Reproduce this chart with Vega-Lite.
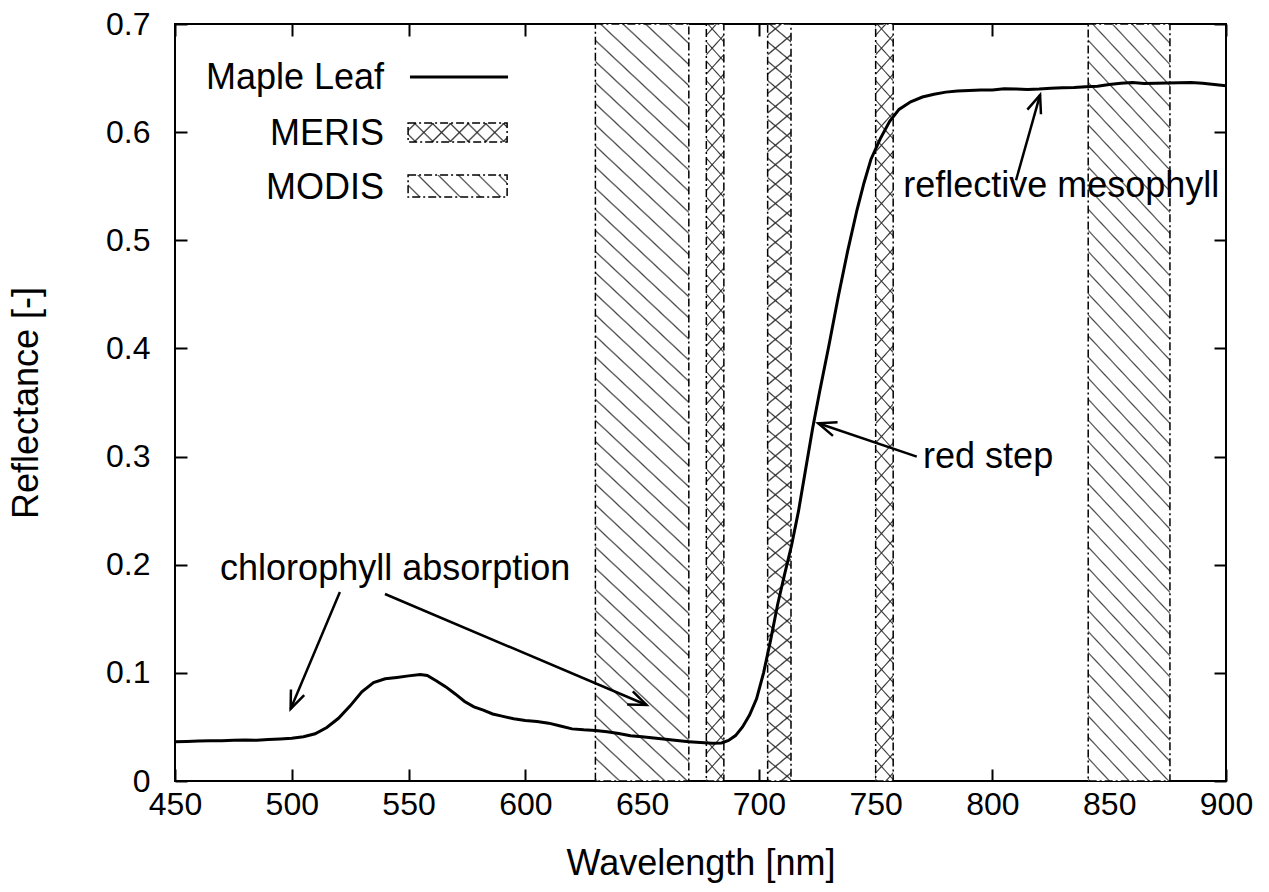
{
  "$schema": "https://vega.github.io/schema/vega-lite/v6.json",
  "width": 1051,
  "height": 757,
  "autosize": {"type": "none"},
  "padding": {"left": 175, "top": 24, "right": 43, "bottom": 111},
  "background": "white",
  "config": {
    "view": {"stroke": "#000", "strokeWidth": 2},
    "font": "Liberation Sans",
    "axis": {"domain": false, "grid": false, "labelFlush": false, "labelOverlap": false, "tickColor": "#000", "tickWidth": 2, "tickSize": -12, "labelColor": "#000", "titleColor": "#000", "labelFont": "Liberation Sans", "titleFont": "Liberation Sans", "labelFontSize": 32, "titleFontSize": 36, "titleFontWeight": "normal"}
  },
  "datasets": {
    "spectrum": [
      {"wl": 450, "r": 0.0363}, {"wl": 455, "r": 0.0366}, {"wl": 460, "r": 0.037}, {"wl": 465, "r": 0.0373}, {"wl": 470, "r": 0.0372},
      {"wl": 475, "r": 0.0377}, {"wl": 480, "r": 0.0379}, {"wl": 485, "r": 0.0377}, {"wl": 490, "r": 0.0383}, {"wl": 495, "r": 0.0388},
      {"wl": 500, "r": 0.0395}, {"wl": 505, "r": 0.041}, {"wl": 510, "r": 0.0437}, {"wl": 515, "r": 0.0495}, {"wl": 520, "r": 0.058},
      {"wl": 525, "r": 0.0695}, {"wl": 530, "r": 0.0825}, {"wl": 535, "r": 0.091}, {"wl": 540, "r": 0.0945}, {"wl": 545, "r": 0.0958},
      {"wl": 550, "r": 0.0972}, {"wl": 555, "r": 0.0985}, {"wl": 558, "r": 0.0975}, {"wl": 562, "r": 0.0925}, {"wl": 566, "r": 0.087},
      {"wl": 570, "r": 0.0805}, {"wl": 574, "r": 0.0735}, {"wl": 578, "r": 0.0685}, {"wl": 582, "r": 0.0655}, {"wl": 586, "r": 0.062},
      {"wl": 590, "r": 0.06}, {"wl": 595, "r": 0.0575}, {"wl": 600, "r": 0.056}, {"wl": 605, "r": 0.055}, {"wl": 610, "r": 0.0535},
      {"wl": 615, "r": 0.0508}, {"wl": 620, "r": 0.0482}, {"wl": 625, "r": 0.0473}, {"wl": 630, "r": 0.0468}, {"wl": 635, "r": 0.0456},
      {"wl": 640, "r": 0.044}, {"wl": 645, "r": 0.0418}, {"wl": 650, "r": 0.041}, {"wl": 655, "r": 0.0398}, {"wl": 660, "r": 0.0386},
      {"wl": 665, "r": 0.0374}, {"wl": 670, "r": 0.0364}, {"wl": 675, "r": 0.0356}, {"wl": 680, "r": 0.0349}, {"wl": 684, "r": 0.0352},
      {"wl": 687, "r": 0.0375}, {"wl": 690, "r": 0.042}, {"wl": 693, "r": 0.05}, {"wl": 696, "r": 0.061}, {"wl": 699, "r": 0.076},
      {"wl": 702, "r": 0.1}, {"wl": 705, "r": 0.13}, {"wl": 708, "r": 0.163}, {"wl": 711, "r": 0.191}, {"wl": 714, "r": 0.218},
      {"wl": 717, "r": 0.25}, {"wl": 720, "r": 0.288}, {"wl": 723, "r": 0.326}, {"wl": 726, "r": 0.36}, {"wl": 730, "r": 0.403},
      {"wl": 734, "r": 0.448}, {"wl": 738, "r": 0.49}, {"wl": 742, "r": 0.528}, {"wl": 745, "r": 0.553}, {"wl": 748, "r": 0.575},
      {"wl": 752, "r": 0.594}, {"wl": 756, "r": 0.61}, {"wl": 760, "r": 0.621}, {"wl": 765, "r": 0.628}, {"wl": 770, "r": 0.6325},
      {"wl": 775, "r": 0.635}, {"wl": 780, "r": 0.637}, {"wl": 785, "r": 0.638}, {"wl": 790, "r": 0.6385}, {"wl": 795, "r": 0.639},
      {"wl": 800, "r": 0.639}, {"wl": 805, "r": 0.6402}, {"wl": 810, "r": 0.64}, {"wl": 815, "r": 0.6395}, {"wl": 820, "r": 0.6398},
      {"wl": 825, "r": 0.6405}, {"wl": 830, "r": 0.641}, {"wl": 835, "r": 0.6412}, {"wl": 840, "r": 0.642}, {"wl": 845, "r": 0.6425},
      {"wl": 850, "r": 0.644}, {"wl": 855, "r": 0.6452}, {"wl": 860, "r": 0.6458}, {"wl": 865, "r": 0.645}, {"wl": 870, "r": 0.6452},
      {"wl": 875, "r": 0.6455}, {"wl": 880, "r": 0.6457}, {"wl": 885, "r": 0.6458}, {"wl": 890, "r": 0.6452}, {"wl": 895, "r": 0.644},
      {"wl": 900, "r": 0.643}
    ],
    "modis": [
      {"band": "MODIS 1", "start": 630, "end": 670},
      {"band": "MODIS 2", "start": 841, "end": 876}
    ],
    "meris": [
      {"band": "MERIS 8", "start": 677.5, "end": 685},
      {"band": "MERIS 9", "start": 703.75, "end": 713.75},
      {"band": "MERIS 10", "start": 750, "end": 757.5}
    ],
    "arrows": [
      {"id": "a1", "x": 520.6, "y": 0.1748, "x2": 499.5, "y2": 0.0666},
      {"id": "a2", "x": 539.9, "y": 0.1729, "x2": 651.9, "y2": 0.0703},
      {"id": "a3", "x": 767.6, "y": 0.2999, "x2": 725.4, "y2": 0.3308},
      {"id": "a4", "x": 810.1, "y": 0.5555, "x2": 820.4, "y2": 0.6344}
    ],
    "notes": [
      {"note": "chlorophyll absorption", "x": 469.3, "y": 0.186},
      {"note": "red step", "x": 770.3, "y": 0.2894},
      {"note": "reflective mesophyll", "x": 761.8, "y": 0.5403}
    ],
    "key": [
      {"label": "Maple Leaf", "tx": 539.5, "ty": 0.6399, "sx": 550.6, "sx2": 592.6, "sy": 0.651, "sy2": 0.651},
      {"label": "MERIS", "tx": 539.5, "ty": 0.5881, "sx": 549.8, "sx2": 592.2, "sy": 0.5909, "sy2": 0.6085},
      {"label": "MODIS", "tx": 539.5, "ty": 0.5382, "sx": 549.8, "sx2": 592.2, "sy": 0.54, "sy2": 0.5604}
    ]
  },
  "resolve": {"axis": {"x": "independent", "y": "independent"}},
  "layer": [
    {
      "data": {"name": "modis"},
      "mark": {"type": "rect", "stroke": "#000", "strokeWidth": 1.5, "strokeDash": [8, 3, 2, 3],
        "fill": {"gradient": "linear", "x1": 0, "y1": 1, "x2": 0.1273, "y2": -0.1009, "stops": [
          {"offset": 0, "color": "#fff"}, {"offset": 0.002, "color": "#444"}, {"offset": 0.004, "color": "#fff"},
          {"offset": 0.025, "color": "#fff"}, {"offset": 0.027, "color": "#444"}, {"offset": 0.029, "color": "#fff"},
          {"offset": 0.05, "color": "#fff"}, {"offset": 0.052, "color": "#444"}, {"offset": 0.054, "color": "#fff"},
          {"offset": 0.075, "color": "#fff"}, {"offset": 0.077, "color": "#444"}, {"offset": 0.079, "color": "#fff"},
          {"offset": 0.1, "color": "#fff"}, {"offset": 0.102, "color": "#444"}, {"offset": 0.104, "color": "#fff"},
          {"offset": 0.125, "color": "#fff"}, {"offset": 0.127, "color": "#444"}, {"offset": 0.129, "color": "#fff"},
          {"offset": 0.15, "color": "#fff"}, {"offset": 0.152, "color": "#444"}, {"offset": 0.154, "color": "#fff"},
          {"offset": 0.175, "color": "#fff"}, {"offset": 0.177, "color": "#444"}, {"offset": 0.179, "color": "#fff"},
          {"offset": 0.2, "color": "#fff"}, {"offset": 0.202, "color": "#444"}, {"offset": 0.204, "color": "#fff"},
          {"offset": 0.225, "color": "#fff"}, {"offset": 0.227, "color": "#444"}, {"offset": 0.229, "color": "#fff"},
          {"offset": 0.25, "color": "#fff"}, {"offset": 0.252, "color": "#444"}, {"offset": 0.254, "color": "#fff"},
          {"offset": 0.275, "color": "#fff"}, {"offset": 0.277, "color": "#444"}, {"offset": 0.279, "color": "#fff"},
          {"offset": 0.3, "color": "#fff"}, {"offset": 0.302, "color": "#444"}, {"offset": 0.304, "color": "#fff"},
          {"offset": 0.325, "color": "#fff"}, {"offset": 0.327, "color": "#444"}, {"offset": 0.329, "color": "#fff"},
          {"offset": 0.35, "color": "#fff"}, {"offset": 0.352, "color": "#444"}, {"offset": 0.354, "color": "#fff"},
          {"offset": 0.375, "color": "#fff"}, {"offset": 0.377, "color": "#444"}, {"offset": 0.379, "color": "#fff"},
          {"offset": 0.4, "color": "#fff"}, {"offset": 0.402, "color": "#444"}, {"offset": 0.404, "color": "#fff"},
          {"offset": 0.425, "color": "#fff"}, {"offset": 0.427, "color": "#444"}, {"offset": 0.429, "color": "#fff"},
          {"offset": 0.45, "color": "#fff"}, {"offset": 0.452, "color": "#444"}, {"offset": 0.454, "color": "#fff"},
          {"offset": 0.475, "color": "#fff"}, {"offset": 0.477, "color": "#444"}, {"offset": 0.479, "color": "#fff"},
          {"offset": 0.5, "color": "#fff"}, {"offset": 0.502, "color": "#444"}, {"offset": 0.504, "color": "#fff"},
          {"offset": 0.525, "color": "#fff"}, {"offset": 0.527, "color": "#444"}, {"offset": 0.529, "color": "#fff"},
          {"offset": 0.55, "color": "#fff"}, {"offset": 0.552, "color": "#444"}, {"offset": 0.554, "color": "#fff"},
          {"offset": 0.575, "color": "#fff"}, {"offset": 0.577, "color": "#444"}, {"offset": 0.579, "color": "#fff"},
          {"offset": 0.6, "color": "#fff"}, {"offset": 0.602, "color": "#444"}, {"offset": 0.604, "color": "#fff"},
          {"offset": 0.625, "color": "#fff"}, {"offset": 0.627, "color": "#444"}, {"offset": 0.629, "color": "#fff"},
          {"offset": 0.65, "color": "#fff"}, {"offset": 0.652, "color": "#444"}, {"offset": 0.654, "color": "#fff"},
          {"offset": 0.675, "color": "#fff"}, {"offset": 0.677, "color": "#444"}, {"offset": 0.679, "color": "#fff"},
          {"offset": 0.7, "color": "#fff"}, {"offset": 0.702, "color": "#444"}, {"offset": 0.704, "color": "#fff"},
          {"offset": 0.725, "color": "#fff"}, {"offset": 0.727, "color": "#444"}, {"offset": 0.729, "color": "#fff"},
          {"offset": 0.75, "color": "#fff"}, {"offset": 0.752, "color": "#444"}, {"offset": 0.754, "color": "#fff"},
          {"offset": 0.775, "color": "#fff"}, {"offset": 0.777, "color": "#444"}, {"offset": 0.779, "color": "#fff"},
          {"offset": 0.8, "color": "#fff"}, {"offset": 0.802, "color": "#444"}, {"offset": 0.804, "color": "#fff"},
          {"offset": 0.825, "color": "#fff"}, {"offset": 0.827, "color": "#444"}, {"offset": 0.829, "color": "#fff"},
          {"offset": 0.85, "color": "#fff"}, {"offset": 0.852, "color": "#444"}, {"offset": 0.854, "color": "#fff"},
          {"offset": 0.875, "color": "#fff"}, {"offset": 0.877, "color": "#444"}, {"offset": 0.879, "color": "#fff"},
          {"offset": 0.9, "color": "#fff"}, {"offset": 0.902, "color": "#444"}, {"offset": 0.904, "color": "#fff"},
          {"offset": 0.925, "color": "#fff"}, {"offset": 0.927, "color": "#444"}, {"offset": 0.929, "color": "#fff"},
          {"offset": 0.95, "color": "#fff"}, {"offset": 0.952, "color": "#444"}, {"offset": 0.954, "color": "#fff"},
          {"offset": 0.975, "color": "#fff"}, {"offset": 0.977, "color": "#444"}, {"offset": 0.979, "color": "#fff"}
        ]}},
      "encoding": {
        "x": {"field": "start", "type": "quantitative", "scale": {"domain": [450, 900], "nice": false, "zero": false}, "axis": null},
        "x2": {"field": "end"}
      }
    },
    {
      "data": {"name": "meris"},
      "mark": {"type": "rect",
        "fill": {"gradient": "linear", "x1": 0, "y1": 1, "x2": 0.0264, "y2": -0.0251, "stops": [
          {"offset": 0, "color": "#fff"}, {"offset": 0.002, "color": "#333"}, {"offset": 0.004, "color": "#fff"},
          {"offset": 0.025, "color": "#fff"}, {"offset": 0.027, "color": "#333"}, {"offset": 0.029, "color": "#fff"},
          {"offset": 0.05, "color": "#fff"}, {"offset": 0.052, "color": "#333"}, {"offset": 0.054, "color": "#fff"},
          {"offset": 0.075, "color": "#fff"}, {"offset": 0.077, "color": "#333"}, {"offset": 0.079, "color": "#fff"},
          {"offset": 0.1, "color": "#fff"}, {"offset": 0.102, "color": "#333"}, {"offset": 0.104, "color": "#fff"},
          {"offset": 0.125, "color": "#fff"}, {"offset": 0.127, "color": "#333"}, {"offset": 0.129, "color": "#fff"},
          {"offset": 0.15, "color": "#fff"}, {"offset": 0.152, "color": "#333"}, {"offset": 0.154, "color": "#fff"},
          {"offset": 0.175, "color": "#fff"}, {"offset": 0.177, "color": "#333"}, {"offset": 0.179, "color": "#fff"},
          {"offset": 0.2, "color": "#fff"}, {"offset": 0.202, "color": "#333"}, {"offset": 0.204, "color": "#fff"},
          {"offset": 0.225, "color": "#fff"}, {"offset": 0.227, "color": "#333"}, {"offset": 0.229, "color": "#fff"},
          {"offset": 0.25, "color": "#fff"}, {"offset": 0.252, "color": "#333"}, {"offset": 0.254, "color": "#fff"},
          {"offset": 0.275, "color": "#fff"}, {"offset": 0.277, "color": "#333"}, {"offset": 0.279, "color": "#fff"},
          {"offset": 0.3, "color": "#fff"}, {"offset": 0.302, "color": "#333"}, {"offset": 0.304, "color": "#fff"},
          {"offset": 0.325, "color": "#fff"}, {"offset": 0.327, "color": "#333"}, {"offset": 0.329, "color": "#fff"},
          {"offset": 0.35, "color": "#fff"}, {"offset": 0.352, "color": "#333"}, {"offset": 0.354, "color": "#fff"},
          {"offset": 0.375, "color": "#fff"}, {"offset": 0.377, "color": "#333"}, {"offset": 0.379, "color": "#fff"},
          {"offset": 0.4, "color": "#fff"}, {"offset": 0.402, "color": "#333"}, {"offset": 0.404, "color": "#fff"},
          {"offset": 0.425, "color": "#fff"}, {"offset": 0.427, "color": "#333"}, {"offset": 0.429, "color": "#fff"},
          {"offset": 0.45, "color": "#fff"}, {"offset": 0.452, "color": "#333"}, {"offset": 0.454, "color": "#fff"},
          {"offset": 0.475, "color": "#fff"}, {"offset": 0.477, "color": "#333"}, {"offset": 0.479, "color": "#fff"},
          {"offset": 0.5, "color": "#fff"}, {"offset": 0.502, "color": "#333"}, {"offset": 0.504, "color": "#fff"},
          {"offset": 0.525, "color": "#fff"}, {"offset": 0.527, "color": "#333"}, {"offset": 0.529, "color": "#fff"},
          {"offset": 0.55, "color": "#fff"}, {"offset": 0.552, "color": "#333"}, {"offset": 0.554, "color": "#fff"},
          {"offset": 0.575, "color": "#fff"}, {"offset": 0.577, "color": "#333"}, {"offset": 0.579, "color": "#fff"},
          {"offset": 0.6, "color": "#fff"}, {"offset": 0.602, "color": "#333"}, {"offset": 0.604, "color": "#fff"},
          {"offset": 0.625, "color": "#fff"}, {"offset": 0.627, "color": "#333"}, {"offset": 0.629, "color": "#fff"},
          {"offset": 0.65, "color": "#fff"}, {"offset": 0.652, "color": "#333"}, {"offset": 0.654, "color": "#fff"},
          {"offset": 0.675, "color": "#fff"}, {"offset": 0.677, "color": "#333"}, {"offset": 0.679, "color": "#fff"},
          {"offset": 0.7, "color": "#fff"}, {"offset": 0.702, "color": "#333"}, {"offset": 0.704, "color": "#fff"},
          {"offset": 0.725, "color": "#fff"}, {"offset": 0.727, "color": "#333"}, {"offset": 0.729, "color": "#fff"},
          {"offset": 0.75, "color": "#fff"}, {"offset": 0.752, "color": "#333"}, {"offset": 0.754, "color": "#fff"},
          {"offset": 0.775, "color": "#fff"}, {"offset": 0.777, "color": "#333"}, {"offset": 0.779, "color": "#fff"},
          {"offset": 0.8, "color": "#fff"}, {"offset": 0.802, "color": "#333"}, {"offset": 0.804, "color": "#fff"},
          {"offset": 0.825, "color": "#fff"}, {"offset": 0.827, "color": "#333"}, {"offset": 0.829, "color": "#fff"},
          {"offset": 0.85, "color": "#fff"}, {"offset": 0.852, "color": "#333"}, {"offset": 0.854, "color": "#fff"},
          {"offset": 0.875, "color": "#fff"}, {"offset": 0.877, "color": "#333"}, {"offset": 0.879, "color": "#fff"},
          {"offset": 0.9, "color": "#fff"}, {"offset": 0.902, "color": "#333"}, {"offset": 0.904, "color": "#fff"},
          {"offset": 0.925, "color": "#fff"}, {"offset": 0.927, "color": "#333"}, {"offset": 0.929, "color": "#fff"},
          {"offset": 0.95, "color": "#fff"}, {"offset": 0.952, "color": "#333"}, {"offset": 0.954, "color": "#fff"},
          {"offset": 0.975, "color": "#fff"}, {"offset": 0.977, "color": "#333"}, {"offset": 0.979, "color": "#fff"}
        ]}},
      "encoding": {
        "x": {"field": "start", "type": "quantitative", "scale": {"domain": [450, 900], "nice": false, "zero": false}, "axis": null},
        "x2": {"field": "end"}
      }
    },
    {
      "data": {"name": "meris"},
      "mark": {"type": "rect", "stroke": "#000", "strokeWidth": 1.5, "strokeDash": [8, 3, 2, 3],
        "fill": {"gradient": "linear", "x1": 0, "y1": 0, "x2": 0.0264, "y2": 1.0251, "stops": [
          {"offset": 0.0125, "color": "rgba(0,0,0,0)"}, {"offset": 0.0145, "color": "#333"}, {"offset": 0.0165, "color": "rgba(0,0,0,0)"},
          {"offset": 0.0375, "color": "rgba(0,0,0,0)"}, {"offset": 0.0395, "color": "#333"}, {"offset": 0.0415, "color": "rgba(0,0,0,0)"},
          {"offset": 0.0625, "color": "rgba(0,0,0,0)"}, {"offset": 0.0645, "color": "#333"}, {"offset": 0.0665, "color": "rgba(0,0,0,0)"},
          {"offset": 0.0875, "color": "rgba(0,0,0,0)"}, {"offset": 0.0895, "color": "#333"}, {"offset": 0.0915, "color": "rgba(0,0,0,0)"},
          {"offset": 0.1125, "color": "rgba(0,0,0,0)"}, {"offset": 0.1145, "color": "#333"}, {"offset": 0.1165, "color": "rgba(0,0,0,0)"},
          {"offset": 0.1375, "color": "rgba(0,0,0,0)"}, {"offset": 0.1395, "color": "#333"}, {"offset": 0.1415, "color": "rgba(0,0,0,0)"},
          {"offset": 0.1625, "color": "rgba(0,0,0,0)"}, {"offset": 0.1645, "color": "#333"}, {"offset": 0.1665, "color": "rgba(0,0,0,0)"},
          {"offset": 0.1875, "color": "rgba(0,0,0,0)"}, {"offset": 0.1895, "color": "#333"}, {"offset": 0.1915, "color": "rgba(0,0,0,0)"},
          {"offset": 0.2125, "color": "rgba(0,0,0,0)"}, {"offset": 0.2145, "color": "#333"}, {"offset": 0.2165, "color": "rgba(0,0,0,0)"},
          {"offset": 0.2375, "color": "rgba(0,0,0,0)"}, {"offset": 0.2395, "color": "#333"}, {"offset": 0.2415, "color": "rgba(0,0,0,0)"},
          {"offset": 0.2625, "color": "rgba(0,0,0,0)"}, {"offset": 0.2645, "color": "#333"}, {"offset": 0.2665, "color": "rgba(0,0,0,0)"},
          {"offset": 0.2875, "color": "rgba(0,0,0,0)"}, {"offset": 0.2895, "color": "#333"}, {"offset": 0.2915, "color": "rgba(0,0,0,0)"},
          {"offset": 0.3125, "color": "rgba(0,0,0,0)"}, {"offset": 0.3145, "color": "#333"}, {"offset": 0.3165, "color": "rgba(0,0,0,0)"},
          {"offset": 0.3375, "color": "rgba(0,0,0,0)"}, {"offset": 0.3395, "color": "#333"}, {"offset": 0.3415, "color": "rgba(0,0,0,0)"},
          {"offset": 0.3625, "color": "rgba(0,0,0,0)"}, {"offset": 0.3645, "color": "#333"}, {"offset": 0.3665, "color": "rgba(0,0,0,0)"},
          {"offset": 0.3875, "color": "rgba(0,0,0,0)"}, {"offset": 0.3895, "color": "#333"}, {"offset": 0.3915, "color": "rgba(0,0,0,0)"},
          {"offset": 0.4125, "color": "rgba(0,0,0,0)"}, {"offset": 0.4145, "color": "#333"}, {"offset": 0.4165, "color": "rgba(0,0,0,0)"},
          {"offset": 0.4375, "color": "rgba(0,0,0,0)"}, {"offset": 0.4395, "color": "#333"}, {"offset": 0.4415, "color": "rgba(0,0,0,0)"},
          {"offset": 0.4625, "color": "rgba(0,0,0,0)"}, {"offset": 0.4645, "color": "#333"}, {"offset": 0.4665, "color": "rgba(0,0,0,0)"},
          {"offset": 0.4875, "color": "rgba(0,0,0,0)"}, {"offset": 0.4895, "color": "#333"}, {"offset": 0.4915, "color": "rgba(0,0,0,0)"},
          {"offset": 0.5125, "color": "rgba(0,0,0,0)"}, {"offset": 0.5145, "color": "#333"}, {"offset": 0.5165, "color": "rgba(0,0,0,0)"},
          {"offset": 0.5375, "color": "rgba(0,0,0,0)"}, {"offset": 0.5395, "color": "#333"}, {"offset": 0.5415, "color": "rgba(0,0,0,0)"},
          {"offset": 0.5625, "color": "rgba(0,0,0,0)"}, {"offset": 0.5645, "color": "#333"}, {"offset": 0.5665, "color": "rgba(0,0,0,0)"},
          {"offset": 0.5875, "color": "rgba(0,0,0,0)"}, {"offset": 0.5895, "color": "#333"}, {"offset": 0.5915, "color": "rgba(0,0,0,0)"},
          {"offset": 0.6125, "color": "rgba(0,0,0,0)"}, {"offset": 0.6145, "color": "#333"}, {"offset": 0.6165, "color": "rgba(0,0,0,0)"},
          {"offset": 0.6375, "color": "rgba(0,0,0,0)"}, {"offset": 0.6395, "color": "#333"}, {"offset": 0.6415, "color": "rgba(0,0,0,0)"},
          {"offset": 0.6625, "color": "rgba(0,0,0,0)"}, {"offset": 0.6645, "color": "#333"}, {"offset": 0.6665, "color": "rgba(0,0,0,0)"},
          {"offset": 0.6875, "color": "rgba(0,0,0,0)"}, {"offset": 0.6895, "color": "#333"}, {"offset": 0.6915, "color": "rgba(0,0,0,0)"},
          {"offset": 0.7125, "color": "rgba(0,0,0,0)"}, {"offset": 0.7145, "color": "#333"}, {"offset": 0.7165, "color": "rgba(0,0,0,0)"},
          {"offset": 0.7375, "color": "rgba(0,0,0,0)"}, {"offset": 0.7395, "color": "#333"}, {"offset": 0.7415, "color": "rgba(0,0,0,0)"},
          {"offset": 0.7625, "color": "rgba(0,0,0,0)"}, {"offset": 0.7645, "color": "#333"}, {"offset": 0.7665, "color": "rgba(0,0,0,0)"},
          {"offset": 0.7875, "color": "rgba(0,0,0,0)"}, {"offset": 0.7895, "color": "#333"}, {"offset": 0.7915, "color": "rgba(0,0,0,0)"},
          {"offset": 0.8125, "color": "rgba(0,0,0,0)"}, {"offset": 0.8145, "color": "#333"}, {"offset": 0.8165, "color": "rgba(0,0,0,0)"},
          {"offset": 0.8375, "color": "rgba(0,0,0,0)"}, {"offset": 0.8395, "color": "#333"}, {"offset": 0.8415, "color": "rgba(0,0,0,0)"},
          {"offset": 0.8625, "color": "rgba(0,0,0,0)"}, {"offset": 0.8645, "color": "#333"}, {"offset": 0.8665, "color": "rgba(0,0,0,0)"},
          {"offset": 0.8875, "color": "rgba(0,0,0,0)"}, {"offset": 0.8895, "color": "#333"}, {"offset": 0.8915, "color": "rgba(0,0,0,0)"},
          {"offset": 0.9125, "color": "rgba(0,0,0,0)"}, {"offset": 0.9145, "color": "#333"}, {"offset": 0.9165, "color": "rgba(0,0,0,0)"},
          {"offset": 0.9375, "color": "rgba(0,0,0,0)"}, {"offset": 0.9395, "color": "#333"}, {"offset": 0.9415, "color": "rgba(0,0,0,0)"},
          {"offset": 0.9625, "color": "rgba(0,0,0,0)"}, {"offset": 0.9645, "color": "#333"}, {"offset": 0.9665, "color": "rgba(0,0,0,0)"},
          {"offset": 0.9875, "color": "rgba(0,0,0,0)"}, {"offset": 0.9895, "color": "#333"}, {"offset": 0.9915, "color": "rgba(0,0,0,0)"}
        ]}},
      "encoding": {
        "x": {"field": "start", "type": "quantitative", "scale": {"domain": [450, 900], "nice": false, "zero": false}, "axis": null},
        "x2": {"field": "end"}
      }
    },
    {
      "data": {"name": "spectrum"},
      "mark": {"type": "line", "color": "#000", "strokeWidth": 3},
      "encoding": {
        "x": {"field": "wl", "type": "quantitative", "scale": {"domain": [450, 900], "nice": false, "zero": false},
          "axis": {"orient": "bottom", "values": [450, 500, 550, 600, 650, 700, 750, 800, 850, 900], "title": "Wavelength [nm]", "labelPadding": 20, "titlePadding": 26}},
        "y": {"field": "r", "type": "quantitative", "scale": {"domain": [0, 0.7], "nice": false},
          "axis": {"orient": "left", "values": [0, 0.1, 0.2, 0.3, 0.4, 0.5, 0.6, 0.7], "format": ".1~f", "title": "Reflectance [-]", "labelPadding": 37, "titlePadding": 60}}
      }
    },
    {
      "data": {"name": "arrows"},
      "mark": {"type": "rule", "color": "#000", "strokeWidth": 2.5},
      "encoding": {
        "x": {"field": "x", "type": "quantitative", "scale": {"domain": [450, 900], "nice": false, "zero": false},
          "axis": {"orient": "top", "values": [450, 500, 550, 600, 650, 700, 750, 800, 850, 900], "labels": false, "title": null}},
        "y": {"field": "y", "type": "quantitative", "scale": {"domain": [0, 0.7], "nice": false},
          "axis": {"orient": "right", "values": [0, 0.1, 0.2, 0.3, 0.4, 0.5, 0.6, 0.7], "labels": false, "title": null}},
        "x2": {"field": "x2"},
        "y2": {"field": "y2"}
      }
    },
    {
      "data": {"name": "arrows"},
      "transform": [{"filter": "datum.id == 'a1'"}],
      "mark": {"type": "point", "shape": "M -1 -0.4 L 0 0 L -1 0.4", "filled": false, "stroke": "#000", "strokeWidth": 2.5, "size": 1296, "angle": 112.8, "opacity": 1},
      "encoding": {
        "x": {"field": "x2", "type": "quantitative", "scale": {"domain": [450, 900], "nice": false, "zero": false}, "axis": null},
        "y": {"field": "y2", "type": "quantitative", "scale": {"domain": [0, 0.7], "nice": false}, "axis": null}
      }
    },
    {
      "data": {"name": "arrows"},
      "transform": [{"filter": "datum.id == 'a2'"}],
      "mark": {"type": "point", "shape": "M -1 -0.4 L 0 0 L -1 0.4", "filled": false, "stroke": "#000", "strokeWidth": 2.5, "size": 1296, "angle": 23, "opacity": 1},
      "encoding": {
        "x": {"field": "x2", "type": "quantitative", "scale": {"domain": [450, 900], "nice": false, "zero": false}, "axis": null},
        "y": {"field": "y2", "type": "quantitative", "scale": {"domain": [0, 0.7], "nice": false}, "axis": null}
      }
    },
    {
      "data": {"name": "arrows"},
      "transform": [{"filter": "datum.id == 'a3'"}],
      "mark": {"type": "point", "shape": "M -1 -0.4 L 0 0 L -1 0.4", "filled": false, "stroke": "#000", "strokeWidth": 2.5, "size": 1296, "angle": 198.7, "opacity": 1},
      "encoding": {
        "x": {"field": "x2", "type": "quantitative", "scale": {"domain": [450, 900], "nice": false, "zero": false}, "axis": null},
        "y": {"field": "y2", "type": "quantitative", "scale": {"domain": [0, 0.7], "nice": false}, "axis": null}
      }
    },
    {
      "data": {"name": "arrows"},
      "transform": [{"filter": "datum.id == 'a4'"}],
      "mark": {"type": "point", "shape": "M -1 -0.4 L 0 0 L -1 0.4", "filled": false, "stroke": "#000", "strokeWidth": 2.5, "size": 1296, "angle": 289.2, "opacity": 1},
      "encoding": {
        "x": {"field": "x2", "type": "quantitative", "scale": {"domain": [450, 900], "nice": false, "zero": false}, "axis": null},
        "y": {"field": "y2", "type": "quantitative", "scale": {"domain": [0, 0.7], "nice": false}, "axis": null}
      }
    },
    {
      "data": {"name": "notes"},
      "mark": {"type": "text", "align": "left", "baseline": "alphabetic", "fontSize": 36, "font": "Liberation Sans", "color": "#000"},
      "encoding": {
        "x": {"field": "x", "type": "quantitative", "scale": {"domain": [450, 900], "nice": false, "zero": false}, "axis": null},
        "y": {"field": "y", "type": "quantitative", "scale": {"domain": [0, 0.7], "nice": false}, "axis": null},
        "text": {"field": "note"}
      }
    },
    {
      "data": {"name": "key"},
      "mark": {"type": "text", "align": "right", "baseline": "alphabetic", "fontSize": 36, "font": "Liberation Sans", "color": "#000"},
      "encoding": {
        "x": {"field": "tx", "type": "quantitative", "scale": {"domain": [450, 900], "nice": false, "zero": false}, "axis": null},
        "y": {"field": "ty", "type": "quantitative", "scale": {"domain": [0, 0.7], "nice": false}, "axis": null},
        "text": {"field": "label"}
      }
    },
    {
      "data": {"name": "key"},
      "transform": [{"filter": "datum.label == 'Maple Leaf'"}],
      "mark": {"type": "rule", "color": "#000", "strokeWidth": 3},
      "encoding": {
        "x": {"field": "sx", "type": "quantitative", "scale": {"domain": [450, 900], "nice": false, "zero": false}, "axis": null},
        "x2": {"field": "sx2"},
        "y": {"field": "sy", "type": "quantitative", "scale": {"domain": [0, 0.7], "nice": false}, "axis": null}
      }
    },
    {
      "data": {"name": "key"},
      "transform": [{"filter": "datum.label == 'MODIS'"}],
      "mark": {"type": "rect", "stroke": "#000", "strokeWidth": 1.5, "strokeDash": [8, 3, 2, 3],
        "fill": {"gradient": "linear", "x1": 0, "y1": 1, "x2": 1.1657, "y2": 0.7383, "stops": [
          {"offset": 0.083, "color": "#fff"}, {"offset": 0.097, "color": "#444"}, {"offset": 0.111, "color": "#fff"},
          {"offset": 0.25, "color": "#fff"}, {"offset": 0.264, "color": "#444"}, {"offset": 0.278, "color": "#fff"},
          {"offset": 0.417, "color": "#fff"}, {"offset": 0.431, "color": "#444"}, {"offset": 0.445, "color": "#fff"},
          {"offset": 0.583, "color": "#fff"}, {"offset": 0.597, "color": "#444"}, {"offset": 0.611, "color": "#fff"},
          {"offset": 0.75, "color": "#fff"}, {"offset": 0.764, "color": "#444"}, {"offset": 0.778, "color": "#fff"},
          {"offset": 0.917, "color": "#fff"}, {"offset": 0.931, "color": "#444"}, {"offset": 0.945, "color": "#fff"}
        ]}},
      "encoding": {
        "x": {"field": "sx", "type": "quantitative", "scale": {"domain": [450, 900], "nice": false, "zero": false}, "axis": null},
        "x2": {"field": "sx2"},
        "y": {"field": "sy", "type": "quantitative", "scale": {"domain": [0, 0.7], "nice": false}, "axis": null},
        "y2": {"field": "sy2"}
      }
    },
    {
      "data": {"name": "key"},
      "transform": [{"filter": "datum.label == 'MERIS'"}],
      "mark": {"type": "rect",
        "fill": {"gradient": "linear", "x1": 0, "y1": 1, "x2": 1.1506, "y2": 0.7769, "stops": [
          {"offset": 0.05, "color": "#fff"}, {"offset": 0.0645, "color": "#333"}, {"offset": 0.079, "color": "#fff"},
          {"offset": 0.2, "color": "#fff"}, {"offset": 0.2145, "color": "#333"}, {"offset": 0.229, "color": "#fff"},
          {"offset": 0.35, "color": "#fff"}, {"offset": 0.3645, "color": "#333"}, {"offset": 0.379, "color": "#fff"},
          {"offset": 0.5, "color": "#fff"}, {"offset": 0.5145, "color": "#333"}, {"offset": 0.529, "color": "#fff"},
          {"offset": 0.65, "color": "#fff"}, {"offset": 0.6645, "color": "#333"}, {"offset": 0.679, "color": "#fff"},
          {"offset": 0.8, "color": "#fff"}, {"offset": 0.8145, "color": "#333"}, {"offset": 0.829, "color": "#fff"},
          {"offset": 0.95, "color": "#fff"}, {"offset": 0.9645, "color": "#333"}, {"offset": 0.979, "color": "#fff"}
        ]}},
      "encoding": {
        "x": {"field": "sx", "type": "quantitative", "scale": {"domain": [450, 900], "nice": false, "zero": false}, "axis": null},
        "x2": {"field": "sx2"},
        "y": {"field": "sy", "type": "quantitative", "scale": {"domain": [0, 0.7], "nice": false}, "axis": null},
        "y2": {"field": "sy2"}
      }
    },
    {
      "data": {"name": "key"},
      "transform": [{"filter": "datum.label == 'MERIS'"}],
      "mark": {"type": "rect", "stroke": "#000", "strokeWidth": 1.5, "strokeDash": [8, 3, 2, 3],
        "fill": {"gradient": "linear", "x1": 0, "y1": 0, "x2": 1.1506, "y2": 0.2231, "stops": [
          {"offset": 0.05, "color": "rgba(0,0,0,0)"}, {"offset": 0.0645, "color": "#333"}, {"offset": 0.079, "color": "rgba(0,0,0,0)"},
          {"offset": 0.2, "color": "rgba(0,0,0,0)"}, {"offset": 0.2145, "color": "#333"}, {"offset": 0.229, "color": "rgba(0,0,0,0)"},
          {"offset": 0.35, "color": "rgba(0,0,0,0)"}, {"offset": 0.3645, "color": "#333"}, {"offset": 0.379, "color": "rgba(0,0,0,0)"},
          {"offset": 0.5, "color": "rgba(0,0,0,0)"}, {"offset": 0.5145, "color": "#333"}, {"offset": 0.529, "color": "rgba(0,0,0,0)"},
          {"offset": 0.65, "color": "rgba(0,0,0,0)"}, {"offset": 0.6645, "color": "#333"}, {"offset": 0.679, "color": "rgba(0,0,0,0)"},
          {"offset": 0.8, "color": "rgba(0,0,0,0)"}, {"offset": 0.8145, "color": "#333"}, {"offset": 0.829, "color": "rgba(0,0,0,0)"},
          {"offset": 0.95, "color": "rgba(0,0,0,0)"}, {"offset": 0.9645, "color": "#333"}, {"offset": 0.979, "color": "rgba(0,0,0,0)"}
        ]}},
      "encoding": {
        "x": {"field": "sx", "type": "quantitative", "scale": {"domain": [450, 900], "nice": false, "zero": false}, "axis": null},
        "x2": {"field": "sx2"},
        "y": {"field": "sy", "type": "quantitative", "scale": {"domain": [0, 0.7], "nice": false}, "axis": null},
        "y2": {"field": "sy2"}
      }
    }
  ]
}
